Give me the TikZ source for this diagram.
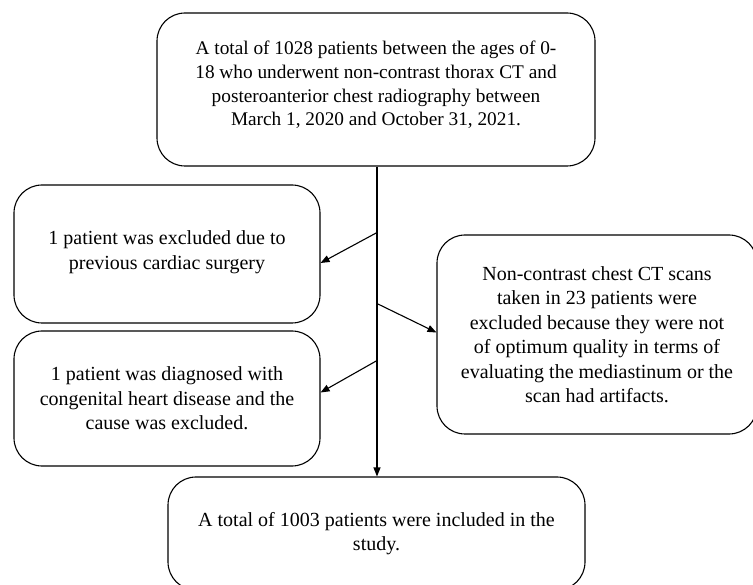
\documentclass[tikz,border=0pt]{standalone}
\usepackage{fontspec}
\setmainfont{Liberation Serif}
\usepackage{tikz}
\usetikzlibrary{arrows.meta,calc}

\tikzset{
	stagebox/.style={draw,line width=1.1pt,rounded corners=28pt,align=center,
		font=\fontsize{20}{24.5}\selectfont,inner sep=0pt},
	flowarrow/.style={line width=1.1pt,-{Triangle[length=9pt,width=7pt]}}
}

\begin{document}
\begin{tikzpicture}[x=1pt,y=-1pt]
	\useasboundingbox (0,0) rectangle (753,585);
	\clip (0,0) rectangle (753,585);
	
	\node[stagebox,font=\fontsize{19.3}{23.7}\selectfont,minimum width=438,minimum height=153] (total) at (376,89.5)
		{A total of 1028 patients between the ages of 0-\\18 who underwent non-contrast thorax CT and\\posteroanterior chest radiography between\\March 1, 2020 and October 31, 2021.\\[-11.7pt]};
	\node[stagebox,minimum width=306,minimum height=138] (surgery) at (167,254)
		{1 patient was excluded due to\\previous cardiac surgery\\[-16.5pt]};
	\node[stagebox,minimum width=306,minimum height=135] (congenital) at (167,398.5)
		{1 patient was diagnosed with\\congenital heart disease and the\\cause was excluded.};
	\node[stagebox,minimum width=320,minimum height=199] (quality) at (597,334.5)
		{Non-contrast chest CT scans\\taken in 23 patients were\\excluded because they were not\\of optimum quality in terms of\\evaluating the mediastinum or the\\scan had artifacts.};
	\node[stagebox,minimum width=417,minimum height=113] (included) at (376.5,533.5)
		{A total of 1003 patients were included in the\\study.};
	
	\coordinate (b1) at ($(total.south)+(1,66)$);
	\coordinate (b2) at ($(total.south)+(1,137)$);
	\coordinate (b3) at ($(total.south)+(1,194)$);
	
	\draw[flowarrow] ($(total.south)+(1,0)$) -- (included.north -| b1);
	\draw[flowarrow] (b1) -- ([yshift=-9pt]surgery.east);
	\draw[flowarrow] (b2) -- ([yshift=2pt]quality.west);
	\draw[flowarrow] (b3) -- ([yshift=6pt]congenital.east);
\end{tikzpicture}
\end{document}
